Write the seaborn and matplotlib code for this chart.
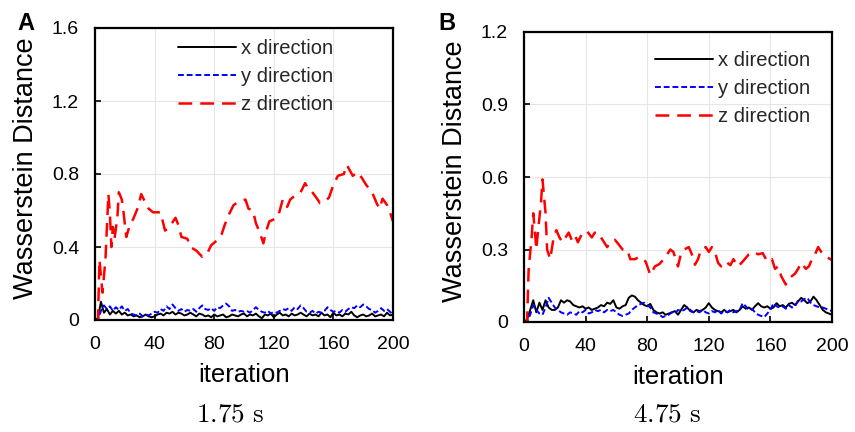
import matplotlib
matplotlib.use("Agg")
import matplotlib.pyplot as plt
import numpy as np
import pandas as pd
import seaborn as sns

sns.set_theme(style="white")
plt.rcParams["font.family"] = ["Liberation Sans", "DejaVu Sans"]
plt.rcParams["mathtext.fontset"] = "cm"

ITER_STEP = np.arange(0, 201, 2)

# Panel A (1.75 s)
a_x_val = [
    0.0, 0.01, 0.10, 0.04, 0.06, 0.03, 0.05, 0.035, 0.05, 0.03,
    0.04, 0.025, 0.03, 0.02, 0.025, 0.015, 0.02, 0.03, 0.02, 0.015,
    0.02, 0.03, 0.035, 0.025, 0.04, 0.035, 0.045, 0.03, 0.04, 0.035,
    0.025, 0.03, 0.04, 0.03, 0.02, 0.035, 0.03, 0.02, 0.025, 0.015,
    0.03, 0.02, 0.025, 0.03, 0.015, 0.02, 0.03, 0.025, 0.02, 0.03,
    0.035, 0.02, 0.03, 0.025, 0.035, 0.02, 0.01, 0.03, 0.025, 0.035,
    0.015, 0.03, 0.04, 0.025, 0.03, 0.02, 0.035, 0.025, 0.03, 0.04,
    0.03, 0.02, 0.035, 0.025, 0.03, 0.02, 0.04, 0.025, 0.03, 0.015,
    0.04, 0.025, 0.03, 0.02, 0.035, 0.03, 0.045, 0.025, 0.015, 0.025,
    0.03, 0.02, 0.025, 0.035, 0.02, 0.025, 0.03, 0.02, 0.04, 0.025,
    0.03,
]
a_y_val = [
    0.0, 0.0, 0.05, 0.08, 0.06, 0.075, 0.05, 0.07, 0.055, 0.075,
    0.05, 0.06, 0.035, 0.03, 0.025, 0.035, 0.02, 0.03, 0.025, 0.035,
    0.045, 0.04, 0.06, 0.05, 0.075, 0.06, 0.085, 0.065, 0.05, 0.06,
    0.045, 0.055, 0.05, 0.06, 0.045, 0.065, 0.08, 0.06, 0.055, 0.065,
    0.05, 0.07, 0.065, 0.08, 0.09, 0.075, 0.05, 0.055, 0.045, 0.05,
    0.045, 0.05, 0.04, 0.055, 0.07, 0.055, 0.045, 0.04, 0.05, 0.035,
    0.045, 0.04, 0.05, 0.06, 0.055, 0.065, 0.05, 0.07, 0.06, 0.08,
    0.065, 0.045, 0.04, 0.05, 0.035, 0.045, 0.04, 0.05, 0.07, 0.055,
    0.045, 0.05, 0.04, 0.055, 0.045, 0.06, 0.07, 0.065, 0.08, 0.07,
    0.085, 0.075, 0.06, 0.055, 0.04, 0.05, 0.065, 0.05, 0.06, 0.045,
    0.03,
]
a_z_iter = [0, 2, 3, 5, 7, 9, 10, 11, 12, 13, 15, 16, 18, 19, 21, 23, 26, 29, 31, 34,
            36, 39, 44, 47, 50, 54, 56, 58, 62, 64, 68, 72, 75, 78, 82, 85, 87, 90, 93, 97,
            101, 103, 106, 108, 111, 113, 115, 117, 121, 123, 126, 129, 131, 134, 138, 141, 143, 145, 149, 151,
            154, 157, 160, 163, 167, 169, 171, 173, 176, 179, 182, 186, 189, 191, 193, 196, 198, 200]
a_z_val = [0.0, 0.0, 0.33, 0.15, 0.33, 0.69, 0.58, 0.40, 0.51, 0.44, 0.56, 0.70, 0.66, 0.60, 0.455, 0.51, 0.56, 0.62, 0.69, 0.64,
           0.61, 0.59, 0.59, 0.49, 0.51, 0.56, 0.52, 0.455, 0.445, 0.40, 0.38, 0.346, 0.36, 0.41, 0.437, 0.47, 0.52, 0.58, 0.63, 0.65,
           0.66, 0.61, 0.60, 0.53, 0.47, 0.42, 0.49, 0.54, 0.555, 0.57, 0.66, 0.62, 0.66, 0.68, 0.70, 0.75, 0.72, 0.71, 0.665, 0.64,
           0.65, 0.67, 0.74, 0.79, 0.80, 0.85, 0.82, 0.79, 0.81, 0.78, 0.74, 0.70, 0.64, 0.61, 0.665, 0.63, 0.59, 0.54]

# Panel B (4.75 s)
b_x_val = [
    0.0, 0.01, 0.05, 0.09, 0.04, 0.08, 0.05, 0.09, 0.06, 0.05,
    0.05, 0.06, 0.09, 0.08, 0.09, 0.085, 0.07, 0.065, 0.06, 0.065,
    0.055, 0.06, 0.05, 0.055, 0.06, 0.07, 0.065, 0.08, 0.075, 0.09,
    0.06, 0.055, 0.065, 0.07, 0.10, 0.11, 0.105, 0.09, 0.08, 0.07,
    0.065, 0.075, 0.05, 0.04, 0.035, 0.04, 0.03, 0.035, 0.04, 0.045,
    0.03, 0.05, 0.07, 0.06, 0.045, 0.04, 0.05, 0.045, 0.05, 0.06,
    0.078, 0.06, 0.05, 0.045, 0.04, 0.05, 0.04, 0.045, 0.05, 0.04,
    0.05, 0.065, 0.055, 0.06, 0.05, 0.065, 0.078, 0.065, 0.06, 0.065,
    0.055, 0.06, 0.078, 0.065, 0.07, 0.06, 0.075, 0.08, 0.07, 0.085,
    0.10, 0.09, 0.078, 0.085, 0.105, 0.09, 0.07, 0.05, 0.04, 0.035,
    0.03,
]
b_y_val = [
    0.0, 0.0, 0.03, 0.07, 0.05, 0.035, 0.03, 0.06, 0.10, 0.08,
    0.06, 0.05, 0.04, 0.035, 0.03, 0.04, 0.035, 0.03, 0.045, 0.04,
    0.05, 0.035, 0.04, 0.05, 0.045, 0.05, 0.04, 0.05, 0.045, 0.05,
    0.04, 0.03, 0.025, 0.03, 0.035, 0.05, 0.06, 0.07, 0.075, 0.08,
    0.07, 0.06, 0.04, 0.035, 0.03, 0.02, 0.025, 0.03, 0.04, 0.035,
    0.05, 0.045, 0.05, 0.06, 0.05, 0.04, 0.045, 0.04, 0.05, 0.04,
    0.035, 0.045, 0.04, 0.05, 0.035, 0.045, 0.04, 0.05, 0.04, 0.045,
    0.05, 0.078, 0.065, 0.05, 0.055, 0.04, 0.03, 0.025, 0.02, 0.035,
    0.05, 0.078, 0.065, 0.06, 0.065, 0.055, 0.07, 0.06, 0.065, 0.09,
    0.085, 0.095, 0.10, 0.08, 0.07, 0.065, 0.06, 0.06, 0.055, 0.05,
    0.045,
]
b_z_iter = [0, 2, 3, 5, 6, 7, 8, 9, 11, 12, 14, 15, 17, 19, 21, 23, 25, 27, 29, 31,
            33, 35, 38, 41, 44, 46, 48, 50, 54, 56, 59, 61, 64, 67, 69, 72, 75, 79, 82, 85,
            88, 92, 95, 97, 100, 102, 104, 107, 109, 111, 113, 115, 118, 120, 122, 124, 126, 128, 131, 134,
            136, 139, 142, 146, 149, 152, 155, 158, 161, 163, 165, 167, 170, 172, 174, 176, 178, 180, 183, 185,
            187, 189, 191, 193, 196, 199, 200]
b_z_val = [0.0, 0.0, 0.216, 0.354, 0.45, 0.38, 0.30, 0.37, 0.49, 0.59, 0.45, 0.30, 0.26, 0.34, 0.38, 0.35, 0.33, 0.35, 0.37, 0.34,
           0.36, 0.33, 0.37, 0.375, 0.35, 0.37, 0.35, 0.35, 0.31, 0.33, 0.34, 0.325, 0.30, 0.30, 0.26, 0.26, 0.27, 0.25, 0.195, 0.23,
           0.24, 0.27, 0.30, 0.29, 0.23, 0.285, 0.30, 0.31, 0.28, 0.237, 0.26, 0.30, 0.31, 0.29, 0.31, 0.29, 0.245, 0.23, 0.25, 0.235,
           0.26, 0.23, 0.25, 0.28, 0.29, 0.28, 0.285, 0.25, 0.26, 0.22, 0.23, 0.19, 0.155, 0.18, 0.19, 0.20, 0.22, 0.245, 0.22, 0.23,
           0.26, 0.28, 0.31, 0.29, 0.27, 0.26, 0.255]

SERIES_LABELS = ["x direction", "y direction", "z direction"]
SERIES_COLORS = ["black", "#0000ff", "#ff0000"]
SERIES_LW = [1.4, 1.4, 1.8]
SERIES_DASHES = [None, [3.0, 1.5], [5.5, 3.2]]

A_YTICKS = [0, 0.4, 0.8, 1.2, 1.6]
B_YTICKS = [0, 0.3, 0.6, 0.9, 1.2]
XTICKS = [0, 40, 80, 120, 160, 200]

fig = plt.figure(figsize=(8.55, 4.32), dpi=100)
ax_a = fig.add_axes([95 / 855, 1 - 320 / 432, 298 / 855, 292 / 432])
ax_b = fig.add_axes([524 / 855, 1 - 322 / 432, 308 / 855, 290 / 432])


def draw_panel(ax, x_val, y_val, z_iter, z_val, yticks, ylabel_x, legend_anchor):
    series = [(ITER_STEP, x_val), (ITER_STEP, y_val), (z_iter, z_val)]
    for (xs, ys), label, color, lw, dashes in zip(series, SERIES_LABELS, SERIES_COLORS,
                                                  SERIES_LW, SERIES_DASHES):
        df = pd.DataFrame({"iteration": xs, "value": ys})
        sns.lineplot(data=df, x="iteration", y="value", ax=ax, color=color,
                     linewidth=lw, label=label, estimator=None, sort=False)
        if dashes is not None:
            ax.lines[-1].set_dashes(dashes)
    ax.set_xlim(0, 200)
    ax.set_ylim(yticks[0], yticks[-1])
    ax.set_xticks(XTICKS)
    ax.set_yticks(yticks)
    ax.set_yticklabels(["0"] + [f"{t:g}" for t in yticks[1:]])
    ax.grid(True, color="#e6e6e6", linewidth=0.8)
    ax.set_axisbelow(True)
    for sp in ax.spines.values():
        sp.set_color("black")
        sp.set_linewidth(1.6)
    ax.tick_params(axis="both", direction="in", length=4, width=1.2, color="black",
                   labelsize=14, labelcolor="black", pad=11.5,
                   bottom=True, left=True)
    ax.set_xlabel("iteration", fontsize=18.5, color="black", labelpad=7.5)
    ax.set_ylabel("Wasserstein Distance", fontsize=19.5, color="black")
    ax.yaxis.set_label_coords(ylabel_x, 0.52)
    ax.legend(loc="upper left", bbox_to_anchor=legend_anchor, frameon=False,
              fontsize=14.5, handlelength=2.9, handletextpad=0.25, labelspacing=0.45,
              borderpad=0, borderaxespad=0)


draw_panel(ax_a, a_x_val, a_y_val, a_z_iter, a_z_val, A_YTICKS,
           (39 - 95) / 298, ((178 - 95) / 298, (320 - 39) / 292))
draw_panel(ax_b, b_x_val, b_y_val, b_z_iter, b_z_val, B_YTICKS,
           (468 - 524) / 308, ((655 - 524) / 308, (322 - 51) / 290))

fig.text(17 / 855, 1 - 30 / 432, "A", fontsize=17, fontweight="bold", color="black")
fig.text(438 / 855, 1 - 30 / 432, "B", fontsize=17, fontweight="bold", color="black")
fig.text(230 / 855, 1 - 422 / 432, r"$1.75\ \mathrm{s}$", fontsize=19.5, ha="center", color="black")
fig.text(667 / 855, 1 - 422 / 432, r"$4.75\ \mathrm{s}$", fontsize=19.5, ha="center", color="black")

fig.savefig("out.png", dpi=100)
